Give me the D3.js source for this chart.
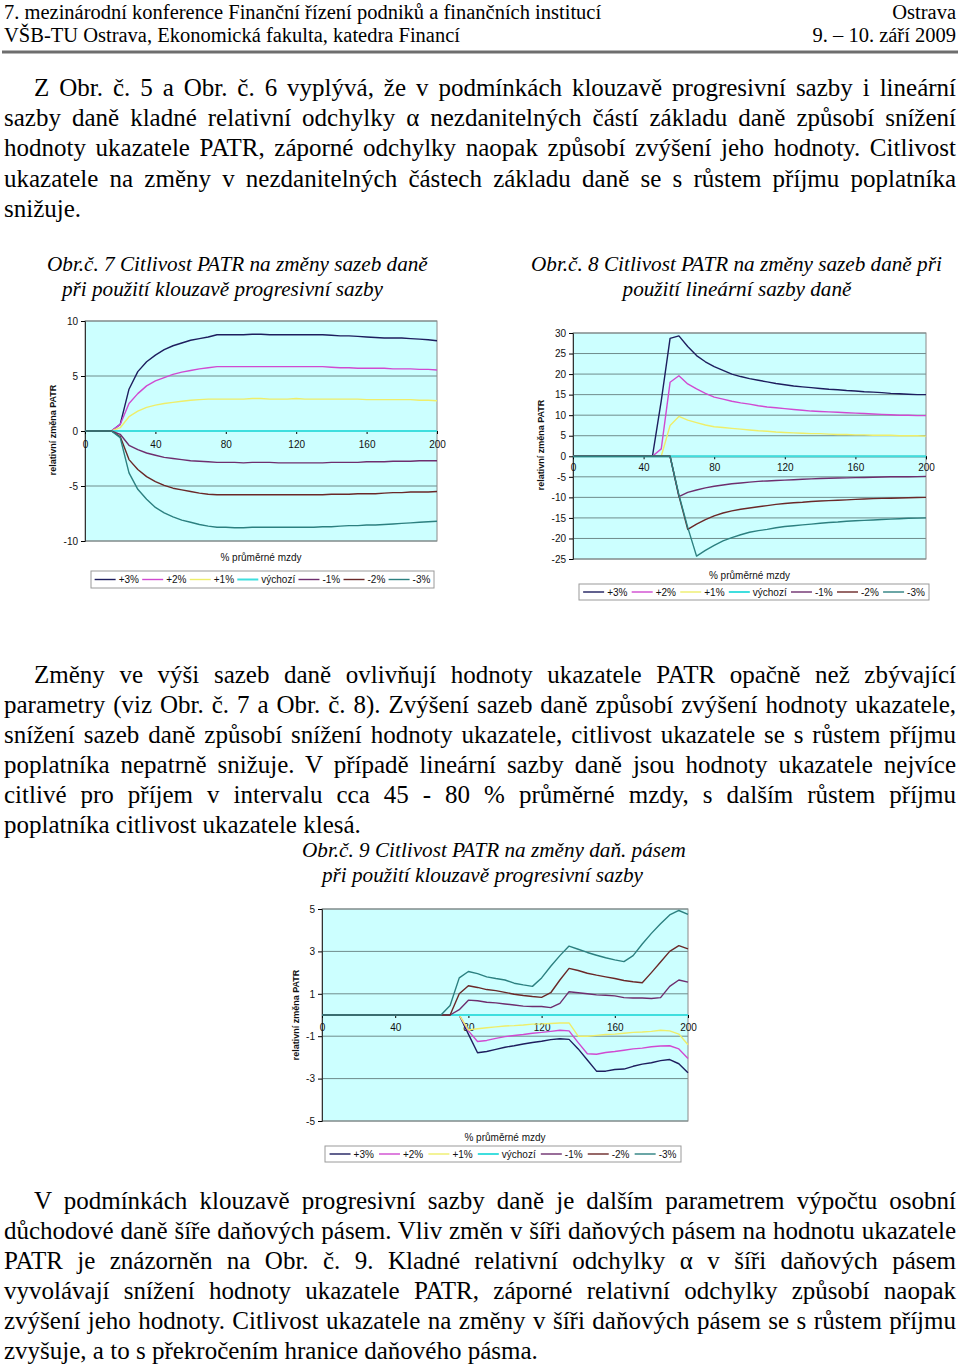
<!DOCTYPE html>
<html>
<head>
<meta charset="utf-8">
<script src="https://cdn.jsdelivr.net/npm/d3@7"></script>
<style>
  body { margin: 0; background: #fff; }
  svg { display: block; }
  .body { font-family: "Liberation Serif", "Times New Roman", serif; font-size: 25px; fill: #000; }
  .head { font-family: "Liberation Serif", "Times New Roman", serif; font-size: 20.5px; fill: #000; }
  .cap { font-family: "Liberation Serif", "Times New Roman", serif; font-size: 21.2px; font-style: italic; fill: #000; }
  .chart text { font-family: "Liberation Sans", Arial, sans-serif; fill: #111; }
</style>
</head>
<body>
<div id="page"></div>
<script>
// SERIES SHARED BY ALL THREE CHARTS
var seriesNames = ["+3%", "+2%", "+1%", "výchozí", "-1%", "-2%", "-3%"];
var seriesColors = ["#1e1e5e", "#d04ad0", "#eeee6a", "#3fdede", "#6e2e6e", "#6a2828", "#2c8080"];
var xValues = [0, 5, 10, 15, 20, 25, 30, 35, 40, 45, 50, 55, 60, 65, 70, 75, 80, 85, 90, 95, 100,
  105, 110, 115, 120, 125, 130, 135, 140, 145, 150, 155, 160, 165, 170, 175, 180, 185, 190, 195, 200];
var xTicks = [0, 40, 80, 120, 160, 200];

// Obr. 7 - sazby dane, klouzave progresivni sazba
var obr7Ticks = [-10, -5, 0, 5, 10];
var obr7_p3 = [0,0,0,0,0.6,3.8,5.4,6.3,6.9,7.4,7.75,8.0,8.25,8.4,8.55,8.75,8.75,8.75,8.75,8.8,8.8,8.75,8.75,8.75,8.75,8.75,8.75,8.75,8.7,8.65,8.65,8.6,8.55,8.5,8.45,8.45,8.45,8.4,8.35,8.3,8.2];
var obr7_p2 = [0,0,0,0,0.6,2.5,3.4,4.1,4.55,4.85,5.15,5.35,5.5,5.65,5.75,5.85,5.85,5.85,5.85,5.85,5.85,5.85,5.85,5.85,5.85,5.85,5.85,5.85,5.8,5.75,5.75,5.7,5.7,5.7,5.7,5.65,5.65,5.65,5.6,5.6,5.55];
var obr7_p1 = [0,0,0,0,0.3,1.3,1.8,2.15,2.35,2.5,2.6,2.7,2.8,2.85,2.9,2.9,2.9,2.9,2.9,2.95,2.95,2.9,2.9,2.9,2.95,2.9,2.9,2.9,2.9,2.9,2.9,2.9,2.85,2.85,2.85,2.85,2.85,2.85,2.8,2.8,2.75];
var obr7_base = [0,0,0,0,0,0,0,0,0,0,0,0,0,0,0,0,0,0,0,0,0,0,0,0,0,0,0,0,0,0,0,0,0,0,0,0,0,0,0,0,0];
var obr7_m1 = [0,0,0,0,-0.3,-1.3,-1.7,-2.0,-2.2,-2.4,-2.5,-2.6,-2.7,-2.75,-2.8,-2.85,-2.85,-2.85,-2.9,-2.85,-2.85,-2.85,-2.9,-2.9,-2.9,-2.9,-2.9,-2.9,-2.85,-2.85,-2.85,-2.85,-2.8,-2.8,-2.8,-2.75,-2.75,-2.75,-2.7,-2.7,-2.7];
var obr7_m2 = [0,0,0,0,-0.5,-2.6,-3.5,-4.15,-4.6,-4.95,-5.2,-5.35,-5.5,-5.65,-5.75,-5.8,-5.8,-5.8,-5.8,-5.8,-5.8,-5.8,-5.8,-5.8,-5.8,-5.8,-5.8,-5.8,-5.75,-5.75,-5.75,-5.7,-5.7,-5.7,-5.65,-5.6,-5.6,-5.55,-5.55,-5.55,-5.5];
var obr7_m3 = [0,0,0,0,-0.6,-3.8,-5.3,-6.2,-6.95,-7.45,-7.8,-8.1,-8.3,-8.5,-8.65,-8.75,-8.75,-8.8,-8.8,-8.75,-8.75,-8.75,-8.75,-8.75,-8.75,-8.75,-8.75,-8.7,-8.7,-8.65,-8.6,-8.6,-8.55,-8.55,-8.5,-8.45,-8.4,-8.35,-8.3,-8.25,-8.2];

// Obr. 8 - sazby dane, linearni sazba
var obr8Ticks = [-25, -20, -15, -10, -5, 0, 5, 10, 15, 20, 25, 30];
var obr8_p3 = [0,0,0,0,0,0,0,0,0,0,13.5,28.7,29.3,26.7,24.5,23.0,21.8,20.9,20.0,19.4,18.9,18.5,18.1,17.7,17.4,17.1,16.9,16.7,16.5,16.3,16.2,16.0,15.9,15.7,15.6,15.5,15.3,15.2,15.1,15.0,15.0];
var obr8_p2 = [0,0,0,0,0,0,0,0,0,0,1.8,18.0,19.6,17.6,16.4,15.3,14.4,13.9,13.4,13.0,12.7,12.3,12.0,11.8,11.6,11.4,11.2,11.0,10.9,10.8,10.7,10.6,10.5,10.4,10.3,10.2,10.1,10.0,10.0,9.9,9.9];
var obr8_p1 = [0,0,0,0,0,0,0,0,0,0,0,7.5,9.7,8.8,8.2,7.6,7.2,7.0,6.8,6.6,6.4,6.2,6.1,5.9,5.8,5.7,5.6,5.5,5.5,5.4,5.3,5.3,5.2,5.2,5.1,5.1,5.1,5.0,5.0,5.0,4.9];
var obr8_base = [0,0,0,0,0,0,0,0,0,0,0,0,0,0,0,0,0,0,0,0,0,0,0,0,0,0,0,0,0,0,0,0,0,0,0,0,0,0,0,0,0];
var obr8_m1 = [0,0,0,0,0,0,0,0,0,0,0,0,-9.8,-8.8,-8.2,-7.7,-7.3,-7.0,-6.7,-6.5,-6.3,-6.1,-6.0,-5.9,-5.8,-5.7,-5.6,-5.5,-5.4,-5.35,-5.3,-5.25,-5.2,-5.15,-5.1,-5.05,-5.0,-5.0,-5.0,-4.95,-4.9];
var obr8_m2 = [0,0,0,0,0,0,0,0,0,0,0,0,-9.6,-17.8,-16.5,-15.4,-14.5,-13.8,-13.3,-12.9,-12.6,-12.3,-12.0,-11.7,-11.5,-11.3,-11.2,-11.0,-10.9,-10.8,-10.7,-10.6,-10.5,-10.4,-10.3,-10.25,-10.2,-10.15,-10.1,-10.05,-10.0];
var obr8_m3 = [0,0,0,0,0,0,0,0,0,0,0,0,-9.4,-17.3,-24.3,-22.9,-21.7,-20.6,-19.8,-19.1,-18.5,-18.1,-17.8,-17.4,-17.1,-16.9,-16.7,-16.5,-16.3,-16.1,-16.0,-15.8,-15.7,-15.6,-15.5,-15.4,-15.3,-15.2,-15.1,-15.05,-15.0];

// Obr. 9 - sire danovych pasem
var obr9Ticks = [-5, -3, -1, 1, 3, 5];
var obr9_p3 = [0,0,0,0,0,0,0,0,0,0,0,0,0,0,0,0,-0.9,-1.78,-1.72,-1.62,-1.52,-1.45,-1.37,-1.3,-1.24,-1.16,-1.12,-1.15,-1.6,-2.12,-2.65,-2.65,-2.57,-2.55,-2.42,-2.32,-2.25,-2.15,-2.1,-2.3,-2.72];
var obr9_p2 = [0,0,0,0,0,0,0,0,0,0,0,0,0,0,0,0,-0.75,-1.25,-1.2,-1.1,-1.02,-0.97,-0.92,-0.86,-0.82,-0.77,-0.72,-0.75,-1.3,-1.83,-1.85,-1.77,-1.72,-1.66,-1.6,-1.56,-1.5,-1.46,-1.45,-1.6,-2.05];
var obr9_p1 = [0,0,0,0,0,0,0,0,0,0,0,0,0,0,0,0,-0.7,-0.65,-0.6,-0.56,-0.52,-0.5,-0.47,-0.43,-0.42,-0.4,-0.38,-0.37,-1.0,-1.0,-0.96,-0.92,-0.9,-0.86,-0.82,-0.8,-0.77,-0.72,-0.75,-0.9,-1.4];
var obr9_base = [0,0,0,0,0,0,0,0,0,0,0,0,0,0,0,0,0,0,0,0,0,0,0,0,0,0,0,0,0,0,0,0,0,0,0,0,0,0,0,0,0];
var obr9_m1 = [0,0,0,0,0,0,0,0,0,0,0,0,0,0,0,0.25,0.7,0.67,0.6,0.57,0.52,0.47,0.42,0.4,0.4,0.35,0.55,1.1,1.05,1.0,0.95,0.93,0.9,0.82,0.8,0.8,0.78,0.82,1.35,1.65,1.55];
var obr9_m2 = [0,0,0,0,0,0,0,0,0,0,0,0,0,0,0,1.0,1.38,1.3,1.2,1.15,1.07,0.98,0.92,0.87,0.83,1.05,1.65,2.2,2.1,1.97,1.88,1.8,1.72,1.63,1.57,1.52,2.0,2.5,3.0,3.27,3.12];
var obr9_m3 = [0,0,0,0,0,0,0,0,0,0,0,0,0,0,0.45,1.75,2.05,1.95,1.8,1.72,1.65,1.5,1.42,1.35,1.75,2.3,2.8,3.25,3.1,2.95,2.82,2.7,2.6,2.52,2.8,3.35,3.85,4.3,4.72,4.93,4.75];

// TEXT OF THE PAGE
var para1 = [
  "Z Obr. č. 5 a Obr. č. 6 vyplývá, že v podmínkách klouzavě progresivní sazby i lineární",
  "sazby daně kladné relativní odchylky α nezdanitelných částí základu daně způsobí snížení",
  "hodnoty ukazatele PATR, záporné odchylky naopak způsobí zvýšení jeho hodnoty. Citlivost",
  "ukazatele na změny v nezdanitelných částech základu daně se s růstem příjmu poplatníka",
  "snižuje."
];
var para2 = [
  "Změny ve výši sazeb daně ovlivňují hodnoty ukazatele PATR opačně než zbývající",
  "parametry (viz Obr. č. 7 a Obr. č. 8). Zvýšení sazeb daně způsobí zvýšení hodnoty ukazatele,",
  "snížení sazeb daně způsobí snížení hodnoty ukazatele, citlivost ukazatele se s růstem příjmu",
  "poplatníka nepatrně snižuje. V případě lineární sazby daně jsou hodnoty ukazatele nejvíce",
  "citlivé pro příjem v intervalu cca 45 - 80 % průměrné mzdy, s dalším růstem příjmu",
  "poplatníka citlivost ukazatele klesá."
];
var para3 = [
  "V podmínkách klouzavě progresivní sazby daně je dalším parametrem výpočtu osobní",
  "důchodové daně šíře daňových pásem. Vliv změn v šíři daňových pásem na hodnotu ukazatele",
  "PATR je znázorněn na Obr. č. 9. Kladné relativní odchylky α v šíři daňových pásem",
  "vyvolávají snížení hodnoty ukazatele PATR, záporné relativní odchylky způsobí naopak",
  "zvýšení jeho hodnoty. Citlivost ukazatele na změny v šíři daňových pásem se s růstem příjmu",
  "zvyšuje, a to s překročením hranice daňového pásma."
];

// SETUP
var svg = d3.select("#page").append("svg")
    .attr("width", 960)
    .attr("height", 1367);

svg.append("rect").attr("width", 960).attr("height", 1367).attr("fill", "#fff");

// header
svg.append("text").attr("class", "head").attr("x", 4).attr("y", 19)
    .text("7. mezinárodní konference Finanční řízení podniků a finančních institucí");
svg.append("text").attr("class", "head").attr("x", 956).attr("y", 19).attr("text-anchor", "end")
    .text("Ostrava");
svg.append("text").attr("class", "head").attr("x", 4).attr("y", 42)
    .text("VŠB-TU Ostrava, Ekonomická fakulta, katedra Financí");
svg.append("text").attr("class", "head").attr("x", 956).attr("y", 42).attr("text-anchor", "end")
    .text("9. – 10. září 2009");
svg.append("line").attr("x1", 2).attr("x2", 958).attr("y1", 52).attr("y2", 52)
    .attr("stroke", "#6e6e6e").attr("stroke-width", 3);

// justified paragraph, first line indented
function paragraph(lines, y0, lead) {
  lines.forEach(function(s, i) {
    var x = i === 0 ? 34 : 4;
    var t = svg.append("text").attr("class", "body").attr("x", x).attr("y", y0 + i * lead).text(s);
    if (i < lines.length - 1) {
      var target = 956 - x;
      var natural = t.node().getComputedTextLength();
      var spaces = s.split(" ").length - 1;
      if (natural < target && spaces > 0) {
        t.style("word-spacing", ((target - natural) / spaces) + "px");
      } else {
        t.attr("textLength", target).attr("lengthAdjust", "spacingAndGlyphs");
      }
    }
  });
}

paragraph(para1, 96, 30.2);
paragraph(para2, 683, 30);
paragraph(para3, 1209, 30);

// captions
function caption(s, x, y, anchor) {
  svg.append("text").attr("class", "cap").attr("x", x).attr("y", y)
      .attr("text-anchor", anchor || "start").text(s);
}
caption("Obr.č. 7 Citlivost PATR na změny sazeb daně", 47, 271);
caption("při použití klouzavě progresivní sazby", 62, 296);
caption("Obr.č. 8 Citlivost PATR na změny sazeb daně při", 531, 271);
caption("použití lineární sazby daně", 737, 296, "middle");
caption("Obr.č. 9 Citlivost PATR na změny daň. pásem", 302, 857);
caption("při použití klouzavě progresivní sazby", 322, 882);

// CHART FUNCTION
function drawChart(c) {
  var x = d3.scaleLinear().domain([0, 200]).range([c.left, c.right]);
  var y = d3.scaleLinear().domain([c.ticks[0], c.ticks[c.ticks.length - 1]]).range([c.bottom, c.top]);
  var plain = function(d) { return String(d); };

  var g = svg.append("g").attr("class", "chart");

  g.append("rect")
      .attr("x", c.left).attr("y", c.top)
      .attr("width", c.right - c.left).attr("height", c.bottom - c.top)
      .attr("fill", "#ccffff");

  g.selectAll("line.grid")
      .data(c.ticks)
    .enter().append("line")
      .attr("class", "grid")
      .attr("x1", c.left).attr("x2", c.right)
      .attr("y1", function(d) { return y(d); })
      .attr("y2", function(d) { return y(d); })
      .attr("stroke", "#6f8c8c").attr("stroke-width", 1);

  g.append("rect")
      .attr("x", c.left).attr("y", c.top)
      .attr("width", c.right - c.left).attr("height", c.bottom - c.top)
      .attr("fill", "none").attr("stroke", "#8a8a8a");

  // y axis
  var ya = g.append("g")
      .attr("transform", "translate(" + c.left + ",0)")
      .call(d3.axisLeft(y).tickValues(c.ticks).tickFormat(plain).tickSize(4).tickPadding(3));
  ya.select(".domain").attr("stroke", "#333");
  ya.selectAll("text").attr("font-size", 10).style("font-family", "Liberation Sans, Arial, sans-serif");

  // x axis at zero
  var xa = g.append("g")
      .attr("transform", "translate(0," + y(0) + ")")
      .call(d3.axisBottom(x).tickValues(xTicks).tickFormat(plain).tickSize(3).tickPadding(c.xPad));
  xa.select(".domain").attr("stroke", "#333");
  xa.selectAll("text").attr("font-size", 10).style("font-family", "Liberation Sans, Arial, sans-serif");

  // series
  var line = d3.line()
      .x(function(d, i) { return x(xValues[i]); })
      .y(function(d) { return y(d); });

  g.selectAll("path.series")
      .data(c.series)
    .enter().append("path")
      .attr("class", "series")
      .attr("d", line)
      .attr("fill", "none")
      .attr("stroke", function(d, i) { return seriesColors[i]; })
      .attr("stroke-width", function(d, i) { return i === 3 ? 2 : 1.4; })
      .attr("stroke-linejoin", "round");

  // axis titles
  g.append("text")
      .attr("transform", "translate(" + c.yTitleX + "," + c.yTitleY + ") rotate(-90)")
      .attr("text-anchor", "middle")
      .attr("font-size", 9).attr("font-weight", "bold")
      .text("relativní změna PATR");

  g.append("text")
      .attr("x", (c.left + c.right) / 2).attr("y", c.xTitleY)
      .attr("text-anchor", "middle")
      .attr("font-size", 10)
      .text("% průměrné mzdy");

  // legend
  var lg = g.append("g");
  lg.append("rect")
      .attr("x", c.legX).attr("y", c.legY)
      .attr("width", c.legW).attr("height", c.legH)
      .attr("fill", "#fff").attr("stroke", "#9a9a9a");

  var items = lg.selectAll("g.item")
      .data(seriesNames)
    .enter().append("g").attr("class", "item");
  items.append("text")
      .attr("font-size", 10)
      .attr("y", c.legY + c.legH / 2 + 3.5)
      .text(function(d) { return d; });
  var widths = [];
  items.selectAll("text").each(function() { widths.push(this.getComputedTextLength()); });
  var used = d3.sum(widths) + seriesNames.length * 24;
  var gap = (c.legW - 4 - used) / seriesNames.length;
  var cx = c.legX + 2 + gap / 2;
  items.each(function(d, i) {
    var it = d3.select(this);
    it.append("line")
        .attr("x1", cx).attr("x2", cx + 21)
        .attr("y1", c.legY + c.legH / 2).attr("y2", c.legY + c.legH / 2)
        .attr("stroke", seriesColors[i]).attr("stroke-width", i === 3 ? 2 : 1.4);
    it.select("text").attr("x", cx + 24);
    cx += 24 + widths[i] + gap;
  });
}

drawChart({
  left: 85, right: 437, top: 321, bottom: 541,
  ticks: obr7Ticks,
  series: [obr7_p3, obr7_p2, obr7_p1, obr7_base, obr7_m1, obr7_m2, obr7_m3],
  xPad: 7, yTitleX: 56, yTitleY: 430, xTitleY: 561,
  legX: 91, legY: 571, legW: 343, legH: 17
});

drawChart({
  left: 573, right: 926, top: 333, bottom: 559,
  ticks: obr8Ticks,
  series: [obr8_p3, obr8_p2, obr8_p1, obr8_base, obr8_m1, obr8_m2, obr8_m3],
  xPad: 5, yTitleX: 544, yTitleY: 445, xTitleY: 579,
  legX: 579, legY: 584, legW: 350, legH: 16
});

drawChart({
  left: 322, right: 688, top: 909, bottom: 1121,
  ticks: obr9Ticks,
  series: [obr9_p3, obr9_p2, obr9_p1, obr9_base, obr9_m1, obr9_m2, obr9_m3],
  xPad: 6, yTitleX: 299, yTitleY: 1015, xTitleY: 1141,
  legX: 325, legY: 1146, legW: 356, legH: 16
});
</script>
</body>
</html>
